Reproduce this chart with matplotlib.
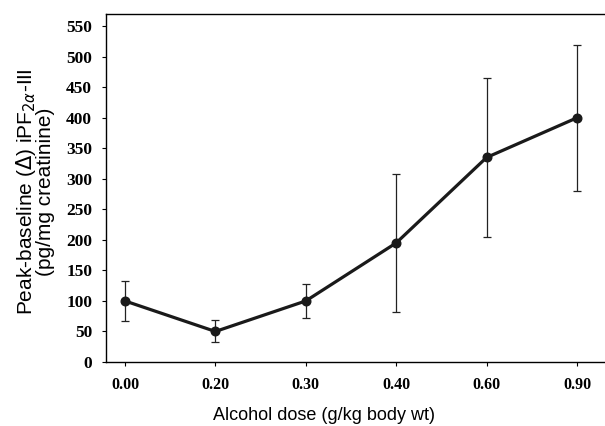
import matplotlib
matplotlib.use("Agg")
import matplotlib.pyplot as plt
import numpy as np

doses = ["0.00", "0.20", "0.30", "0.40", "0.60", "0.90"]
values = [100, 50, 100, 195, 335, 400]
errors = [33, 18, 28, 113, 130, 120]
yticks = [0, 50, 100, 150, 200, 250, 300, 350, 400, 450, 500, 550]

fig = plt.figure(figsize=(6.05, 4.26), dpi=100)
ax = fig.add_axes([106/605, 64/426, 1 - 106/605, (362-14)/426])

x = np.arange(len(doses))
ax.errorbar(x, values, yerr=errors, fmt="none", ecolor="#222222", elinewidth=0.9,
            capsize=3, capthick=0.9, zorder=2)
ax.plot(x, values, color="#1a1a1a", linewidth=2.3, marker="o", markersize=6.2, zorder=3)

ax.set_xlim(-0.21, 5.31)
ax.set_ylim(0, 570)
ax.set_xticks(x)
ax.set_xticklabels(doses)
ax.set_yticks(yticks)
ax.spines["right"].set_visible(False)
for s in ["left", "bottom", "top"]:
    ax.spines[s].set_linewidth(1.0)
ax.tick_params(axis="both", direction="out", length=3, width=0.8)
for lab in ax.get_xticklabels():
    lab.set_fontfamily("Liberation Serif")
    lab.set_fontweight("bold")
    lab.set_fontsize(11.5)
for lab in ax.get_yticklabels():
    lab.set_fontfamily("Liberation Serif")
    lab.set_fontweight("bold")
    lab.set_fontsize(12.5)
ax.tick_params(axis="x", pad=8)
ax.tick_params(axis="y", pad=7)

ax.set_xlabel("Alcohol dose (g/kg body wt)", fontfamily="Liberation Sans", fontsize=13)
ax.xaxis.set_label_coords(0.437, -0.128)
ax.set_ylabel("Peak-baseline ($\\Delta$) iPF$_{2\\alpha}$-III\n(pg/mg creatinine)",
              fontfamily="Liberation Sans", fontsize=15, linespacing=0.85)
ax.yaxis.set_label_coords(-0.102, 0.49)

fig.savefig("out.png", dpi=100)
